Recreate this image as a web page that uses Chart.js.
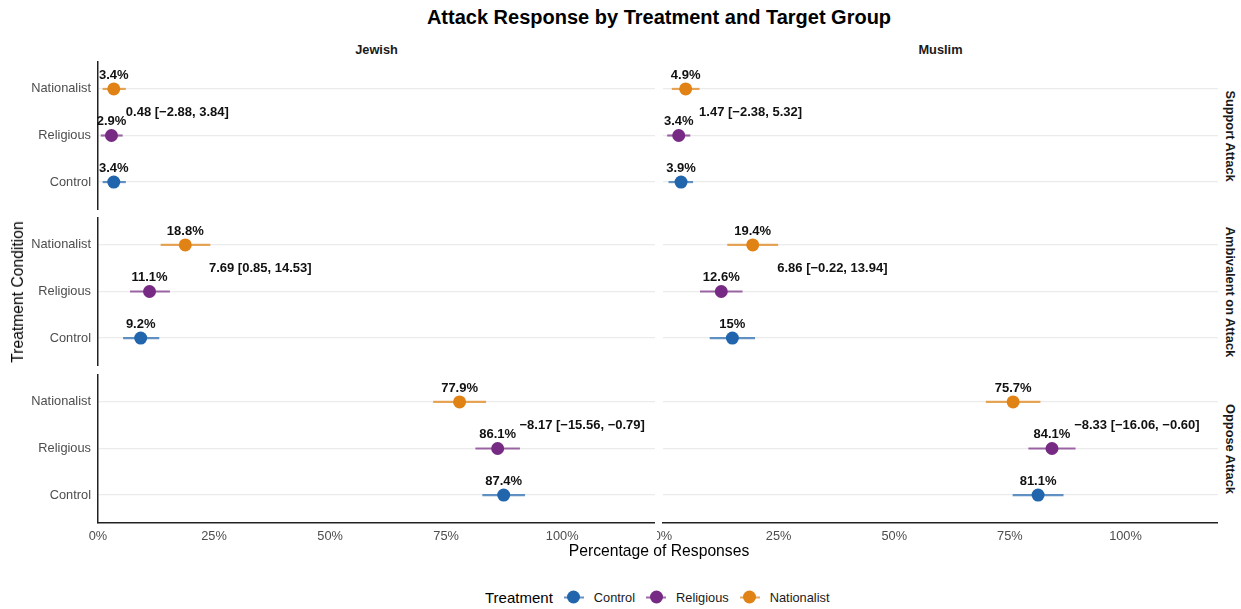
<!DOCTYPE html>
<html>
<head>
<meta charset="utf-8">
<script src="https://cdn.jsdelivr.net/npm/chart.js@4.4.1/dist/chart.umd.min.js"></script>
<style>
  body { margin: 0; background: #fff; font-family: "Liberation Sans", Arial, sans-serif; }
  #wrap { position: relative; width: 1241px; height: 609px; overflow: hidden; }
  #wrap canvas { position: absolute; }
  .txt { position: absolute; white-space: nowrap; color: #1a1a1a; transform: translate(-50%, -50%); }
  .legend { position: absolute; left: 485px; top: 597px; transform: translateY(-50%); display: flex; align-items: center; }
  .key { position: relative; width: 20px; height: 14px; margin-left: 11px; }
  .key .bar { position: absolute; left: 0; right: 0; top: 6px; height: 2px; }
  .key .dot { position: absolute; left: 3.5px; top: 0.5px; width: 13px; height: 13px; border-radius: 50%; }
  .key-label { font-size: 12.8px; color: #1a1a1a; margin-left: 10px; }
</style>
</head>
<body>
<div id="wrap"></div>
<script>
const targets = ['Jewish', 'Muslim']
const responses = ['Support Attack', 'Ambivalent on Attack', 'Oppose Attack']
// plotted bottom to top: Control, Religious, Nationalist
const treatments = ['Control', 'Religious', 'Nationalist']
const treatmentColors = ['#2166AC', '#762A83', '#E08214']
const xTicks = [0, 25, 50, 75, 100]

// percentages per response row, in treatment order
const jewishPct = [[3.4, 2.9, 3.4], [9.2, 11.1, 18.8], [87.4, 86.1, 77.9]]
const jewishLow = [[1.0, 0.6, 1.0], [5.4, 6.9, 13.5], [82.8, 81.3, 72.2]]
const jewishHigh = [[6.0, 5.3, 6.0], [13.2, 15.5, 24.2], [92.0, 90.9, 83.6]]

const muslimPct = [[3.9, 3.4, 4.9], [15, 12.6, 19.4], [81.1, 84.1, 75.7]]
const muslimLow = [[1.2, 0.9, 1.9], [10.1, 8.0, 13.9], [75.6, 79.0, 69.8]]
const muslimHigh = [[6.5, 5.9, 7.9], [19.9, 17.2, 24.9], [86.6, 89.2, 81.6]]

// nationalist minus religious difference with its interval
const jewishDiff = ['0.48 [\u22122.88, 3.84]', '7.69 [0.85, 14.53]', '\u22128.17 [\u221215.56, \u22120.79]']
const muslimDiff = ['1.47 [\u22122.38, 5.32]', '6.86 [\u22120.22, 13.94]', '\u22128.33 [\u221216.06, \u22120.60]']
const jewishDiffAt = [6.0, 23.9, 90.8]
const muslimDiffAt = [7.8, 24.7, 88.9]

const wrap = document.getElementById('wrap')
const font = '"Liberation Sans", Arial, sans-serif'

function fade (hex, a) {
  const n = parseInt(hex.slice(1), 16)
  return `rgba(${n >> 16}, ${(n >> 8) & 255}, ${n & 255}, ${a})`
}

function addText (str, x, y, css) {
  const el = document.createElement('div')
  el.className = 'txt'
  el.textContent = str
  el.style.left = x + 'px'
  el.style.top = y + 'px'
  Object.assign(el.style, css || {})
  wrap.appendChild(el)
  return el
}

// scales keep the exact box we give them, no room reserved for end labels
function fixBox (size) {
  return scale => {
    if (scale.isHorizontal()) scale.height = size
    else scale.width = size
    scale.paddingTop = scale.paddingBottom = scale.paddingLeft = scale.paddingRight = 0
  }
}

// error bars under the points, value labels and the difference note over them
function panelMarks (pct, low, high, diff, diffAt) {
  return {
    id: 'panelMarks',
    beforeDatasetsDraw (chart) {
      const { ctx, scales: { x, y } } = chart
      ctx.save()
      ctx.lineWidth = 2.2
      pct.forEach((v, i) => {
        const py = y.getPixelForValue(i + 1)
        ctx.strokeStyle = fade(treatmentColors[i], 0.7)
        ctx.beginPath()
        ctx.moveTo(x.getPixelForValue(low[i]), py)
        ctx.lineTo(x.getPixelForValue(high[i]), py)
        ctx.stroke()
      })
      ctx.restore()
    },
    afterDatasetsDraw (chart) {
      const { ctx, scales: { x, y } } = chart
      ctx.save()
      ctx.fillStyle = '#111'
      ctx.font = 'bold 13px ' + font
      ctx.textBaseline = 'middle'
      ctx.textAlign = 'center'
      pct.forEach((v, i) => {
        ctx.fillText(v + '%', x.getPixelForValue(v), y.getPixelForValue(i + 1.3))
      })
      ctx.textAlign = 'left'
      ctx.fillText(diff, x.getPixelForValue(diffAt), y.getPixelForValue(2.5))
      ctx.restore()
    }
  }
}

const rowTop = [61, 217, 374]
const panelH = 149
const axisH = 30

function makePanel (col, row, pct, low, high, diff, diffAt) {
  const first = col === 0
  const last = row === responses.length - 1
  const yAxisW = first ? 98 : 6
  const left = first ? 0 : 657
  const width = first ? 655 : 561
  const height = panelH + (last ? axisH : 0)

  const canvas = document.createElement('canvas')
  canvas.width = width
  canvas.height = height
  canvas.style.left = left + 'px'
  canvas.style.top = rowTop[row] + 'px'
  wrap.appendChild(canvas)

  new Chart(canvas.getContext('2d'), {
    type: 'scatter',
    data: {
      datasets: treatments.map((t, i) => ({
        label: t,
        data: [{ x: pct[i], y: i + 1 }],
        backgroundColor: treatmentColors[i],
        borderWidth: 0,
        pointRadius: 6.5,
        clip: false
      }))
    },
    options: {
      responsive: false,
      animation: false,
      devicePixelRatio: 1,
      events: [],
      layout: { padding: 0, autoPadding: false },
      plugins: { legend: { display: false }, tooltip: { enabled: false } },
      scales: {
        x: {
          type: 'linear',
          min: 0,
          max: 120,
          display: last,
          afterBuildTicks: scale => { scale.ticks = xTicks.map(v => ({ value: v })) },
          afterFit: fixBox(last ? axisH : 0),
          grid: { display: false, drawTicks: false },
          border: { display: true, color: '#222', width: 1.5 },
          ticks: {
            padding: 6,
            color: '#4d4d4d',
            font: { family: font, size: 12.8 },
            maxRotation: 0,
            callback: v => v + '%'
          }
        },
        y: {
          type: 'linear',
          min: 0.4,
          max: 3.6,
          afterBuildTicks: scale => { scale.ticks = treatments.map((t, i) => ({ value: i + 1 })) },
          afterFit: fixBox(yAxisW),
          grid: { color: '#ebebeb', lineWidth: 1.2, drawTicks: false },
          border: { display: first, color: '#222', width: 1.5 },
          ticks: {
            display: first,
            padding: 7,
            color: '#4d4d4d',
            font: { family: font, size: 12.8 },
            callback: v => treatments[v - 1]
          }
        }
      }
    },
    plugins: [panelMarks(pct, low, high, diff, diffAt)]
  })
}

responses.forEach((r, row) => {
  makePanel(0, row, jewishPct[row], jewishLow[row], jewishHigh[row], jewishDiff[row], jewishDiffAt[row])
  makePanel(1, row, muslimPct[row], muslimLow[row], muslimHigh[row], muslimDiff[row], muslimDiffAt[row])
  addText(r, 1230, rowTop[row] + panelH / 2, {
    fontSize: '12.8px', fontWeight: 'bold', transform: 'translate(-50%, -50%) rotate(90deg)'
  })
})

// titles and facet strips
addText('Attack Response by Treatment and Target Group', 659, 17, { fontSize: '20px', fontWeight: 'bold', color: '#000' })
addText(targets[0], 376.5, 49, { fontSize: '12.8px', fontWeight: 'bold' })
addText(targets[1], 940.5, 49, { fontSize: '12.8px', fontWeight: 'bold' })
addText('Percentage of Responses', 659, 551, { fontSize: '15.7px', color: '#000' })
addText('Treatment Condition', 18, 292, { fontSize: '15.7px', color: '#000', transform: 'translate(-50%, -50%) rotate(-90deg)' })

// legend
const legend = document.createElement('div')
legend.className = 'legend'
const legendTitle = document.createElement('span')
legendTitle.textContent = 'Treatment'
legendTitle.style.fontSize = '15px'
legendTitle.style.color = '#000'
legend.appendChild(legendTitle)
treatments.forEach((t, i) => {
  const key = document.createElement('span')
  key.className = 'key'
  key.innerHTML = `<span class="bar" style="background:${fade(treatmentColors[i], 0.7)}"></span>` +
    `<span class="dot" style="background:${treatmentColors[i]}"></span>`
  const label = document.createElement('span')
  label.className = 'key-label'
  label.textContent = t
  legend.appendChild(key)
  legend.appendChild(label)
})
wrap.appendChild(legend)
</script>
</body>
</html>
